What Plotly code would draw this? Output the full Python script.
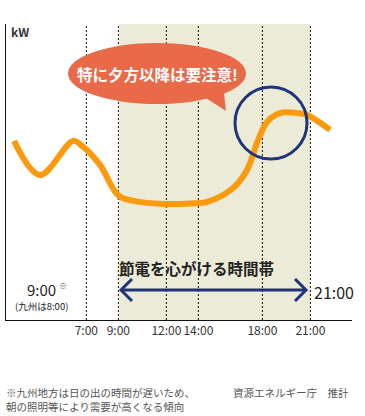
import plotly.graph_objects as go

# ---- data ----
hours = [2.48, 4.10, 6.17, 6.73, 7.85, 9.04, 10.35, 11.92, 13.48, 14.54,
         16.17, 17.04, 17.73, 18.29, 19.10, 20.17, 20.79, 22.23]
demand = [60.5, 49.0, 60.5, 58.8, 52.4, 41.9, 39.9, 39.2, 39.4, 39.9,
          44.6, 50.7, 60.8, 66.9, 69.9, 69.9, 69.3, 64.2]
tick_hours = [7, 9, 12, 14, 18, 21]
tick_labels = ["7:00", "9:00", "12:00", "14:00", "18:00", "21:00"]
save_start, save_end = 9, 21

W, H = 365, 416
L, R, T, B = 6, 352, 24, 320

def P(px, py):
    return ((px - L) / (R - L), (B - py) / (B - T))

NAVY = "#1E3679"
JP = "Noto Sans CJK JP, Noto Sans, sans-serif"

fig = go.Figure()
fig.add_trace(go.Scatter(
    x=hours, y=demand, mode="lines",
    line=dict(color="#FA9A0C", width=6, shape="spline", smoothing=1.0),
    hoverinfo="skip", showlegend=False))

shapes = []
shapes.append(dict(type="rect", xref="x", yref="paper", x0=save_start, x1=save_end,
                   y0=0, y1=1, fillcolor="#ECEBD7", line=dict(width=0), layer="below"))
for h in tick_hours:
    shapes.append(dict(type="line", xref="x", yref="paper", x0=h, x1=h, y0=0, y1=1,
                       line=dict(color="#111", width=1, dash="2px,2px"), layer="below"))

def pth(pts, close=False):
    s = ""
    for i, (px, py) in enumerate(pts):
        x, y = P(px, py)
        s += ("M" if i == 0 else "L") + f"{x:.4f},{y:.4f} "
    return s + ("Z" if close else "")

x0, y0 = P(68, 104)
x1, y1 = P(246, 43)
shapes.append(dict(type="circle", xref="paper", yref="paper", x0=x0, x1=x1, y0=y0, y1=y1,
                   fillcolor="#E96A49", line=dict(width=0), layer="above"))
shapes.append(dict(type="path", xref="paper", yref="paper",
                   path=pth([(206, 98), (226, 111), (224, 93)], True),
                   fillcolor="#E96A49", line=dict(width=0), layer="above"))
cx0, cy0 = P(235, 159)
cx1, cy1 = P(307, 87)
shapes.append(dict(type="circle", xref="paper", yref="paper", x0=cx0, x1=cx1, y0=cy0, y1=cy1,
                   line=dict(color=NAVY, width=3), layer="above"))
shapes.append(dict(type="path", xref="paper", yref="paper",
                   path=pth([(121, 290), (306, 290)]), line=dict(color=NAVY, width=3), layer="above"))
shapes.append(dict(type="path", xref="paper", yref="paper",
                   path=pth([(132, 279), (121, 290), (132, 301)]), line=dict(color=NAVY, width=3), layer="above"))
shapes.append(dict(type="path", xref="paper", yref="paper",
                   path=pth([(295, 279), (306, 290), (295, 301)]), line=dict(color=NAVY, width=3), layer="above"))

ann = []
def text(px, py, s, size, color="#222", bold=False, anchor="left", family=JP):
    x, y = P(px, py)
    if bold:
        s = "<b>" + s + "</b>"
    ann.append(dict(xref="paper", yref="paper", x=x, y=y, text=s, showarrow=False,
                    xanchor=anchor, yanchor="middle",
                    font=dict(size=size, color=color, family=family)))

text(9, 31, "kW", 12, "#333", True)
text(157, 74, "特に夕方以降は要注意!", 15.5, "white", True, "center")
text(196, 268, "節電を心がける時間帯", 15.5, "#222", True, "center")
text(41, 289, "9:00", 15, "#222", False, "center")
text(57, 285, "※", 8, "#444")
text(41, 306, "(九州は8:00)", 9.5, "#222", False, "center")
text(312, 292, "21:00", 16, "#222")
text(4, 392, "※九州地方は日の出の時間が遅いため、", 10.5, "#555")
text(4, 406, "朝の照明等により需要が高くなる傾向", 10.5, "#555")
text(231, 392, "資源エネルギー庁　推計", 10.5, "#555")

fig.update_layout(
    width=W, height=H,
    margin=dict(l=L, r=W - R, t=T, b=H - B),
    paper_bgcolor="white", plot_bgcolor="white",
    shapes=shapes, annotations=ann,
    xaxis=dict(range=[1.98, 23.6], tickvals=tick_hours, ticktext=tick_labels,
               tickangle=0, automargin=False,
               showgrid=False, zeroline=False, showline=True, linecolor="#111", linewidth=1,
               ticks="", tickfont=dict(size=12, color="#333", family=JP)),
    yaxis=dict(range=[0, 100], showgrid=False, zeroline=False, showline=True, automargin=False,
               linecolor="#111", linewidth=1, showticklabels=False, ticks=""),
)

fig.write_html("out.html", config={"displayModeBar": False},
               post_script="document.body.style.margin='0';")
